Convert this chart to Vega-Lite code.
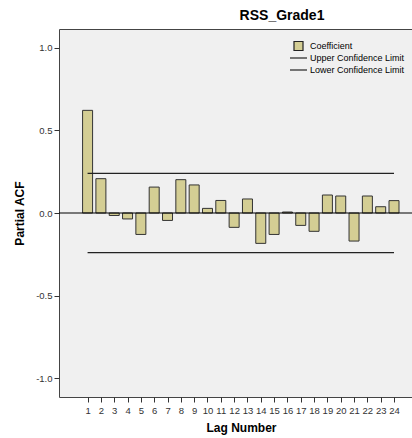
{
  "$schema": "https://vega.github.io/schema/vega-lite/v6.json",
  "autosize": {"type": "none"},
  "padding": {"left": 59, "top": 29, "right": 0, "bottom": 41},
  "width": 354,
  "height": 368,
  "background": "white",
  "title": {"text": "RSS_Grade1", "font": "Liberation Sans", "fontSize": 14, "fontWeight": "bold", "color": "#000", "anchor": "middle", "dx": 46, "offset": 6},
  "config": {
    "view": {"fill": "#f0f0f0", "stroke": "#444", "strokeWidth": 1},
    "axis": {"labelFont": "Liberation Sans", "titleFont": "Liberation Sans", "labelColor": "#333", "titleColor": "#000", "tickColor": "#333", "grid": false, "domain": false, "labelOverlap": false},
    "axisX": {"labelOverlap": false, "labelFlush": false, "labelBound": false},
    "legend": {"labelFont": "Liberation Sans"}
  },
  "datasets": {
    "pacf": [
      {"lag": 1, "coef": 0.622}, {"lag": 2, "coef": 0.208}, {"lag": 3, "coef": -0.015}, {"lag": 4, "coef": -0.036},
      {"lag": 5, "coef": -0.13}, {"lag": 6, "coef": 0.157}, {"lag": 7, "coef": -0.045}, {"lag": 8, "coef": 0.202},
      {"lag": 9, "coef": 0.17}, {"lag": 10, "coef": 0.028}, {"lag": 11, "coef": 0.076}, {"lag": 12, "coef": -0.087},
      {"lag": 13, "coef": 0.085}, {"lag": 14, "coef": -0.184}, {"lag": 15, "coef": -0.13}, {"lag": 16, "coef": 0.006},
      {"lag": 17, "coef": -0.075}, {"lag": 18, "coef": -0.111}, {"lag": 19, "coef": 0.109}, {"lag": 20, "coef": 0.103},
      {"lag": 21, "coef": -0.17}, {"lag": 22, "coef": 0.103}, {"lag": 23, "coef": 0.038}, {"lag": 24, "coef": 0.075}
    ],
    "limits": [
      {"series": "Upper Confidence Limit", "from": 1, "to": 24, "limit": 0.24},
      {"series": "Lower Confidence Limit", "from": 1, "to": 24, "limit": -0.24}
    ],
    "legendItems": [
      {"series": "Coefficient"},
      {"series": "Upper Confidence Limit"},
      {"series": "Lower Confidence Limit"}
    ],
    "baseline": [{"value": 0}]
  },
  "encoding": {
    "x": {"type": "quantitative", "scale": {"domain": [-0.77, 25.05], "nice": false, "zero": false},
      "axis": {"values": [1,2,3,4,5,6,7,8,9,10,11,12,13,14,15,16,17,18,19,20,21,22,23,24], "title": "Lag Number", "titleFontSize": 12, "titleFontWeight": "bold", "titleX": 182, "titlePadding": 8, "labelFontSize": 9.5, "tickSize": 5, "labelPadding": 3, "labelFlush": false, "labelOverlap": false}},
    "y": {"type": "quantitative", "scale": {"domain": [-1.115, 1.115], "nice": false},
      "axis": {"values": [-1, -0.5, 0, 0.5, 1], "labelExpr": "replace(format(datum.value, '.1f'), '\u2212', '-')", "title": "Partial ACF", "titleFontSize": 12, "titleFontWeight": "bold", "titlePadding": 9, "labelFontSize": 9.5, "tickSize": 5, "labelPadding": 2}}
  },
  "layer": [
    {
      "data": {"name": "pacf"},
      "mark": {"type": "bar", "width": 10, "fill": "#d4ce94", "stroke": "#333", "strokeWidth": 1},
      "encoding": {
        "x": {"field": "lag", "type": "quantitative"},
        "y": {"field": "coef", "type": "quantitative"}
      }
    },
    {
      "data": {"name": "limits"},
      "mark": {"type": "rule", "stroke": "#222", "strokeWidth": 1.2},
      "encoding": {
        "x": {"field": "from", "type": "quantitative"},
        "x2": {"field": "to"},
        "y": {"field": "limit", "type": "quantitative"}
      }
    },
    {
      "data": {"name": "baseline"},
      "mark": {"type": "rule", "stroke": "#000", "strokeWidth": 1},
      "encoding": {"x": null, "y": {"field": "value", "type": "quantitative"}}
    },
    {
      "data": {"name": "legendItems"},
      "mark": {"type": "point", "filled": true, "opacity": 1, "clip": true},
      "encoding": {
        "x": {"datum": 40},
        "y": {"datum": 0},
        "shape": {"field": "series", "type": "nominal",
          "scale": {"domain": ["Coefficient", "Upper Confidence Limit", "Lower Confidence Limit"], "range": ["M-0.53,-0.53H0.53V0.53H-0.53Z", "M-1,0H1", "M-1,0H1"]},
          "legend": {"title": null, "orient": "none", "legendX": 230, "legendY": 11, "symbolSize": 289, "symbolStrokeWidth": 1.2, "clipHeight": 12, "labelFontSize": 9, "labelColor": "#000", "labelOffset": 2, "labelLimit": 300, "rowPadding": 0, "padding": 0}},
        "fill": {"field": "series", "type": "nominal",
          "scale": {"domain": ["Coefficient", "Upper Confidence Limit", "Lower Confidence Limit"], "range": ["#d4ce94", "transparent", "transparent"]}},
        "stroke": {"field": "series", "type": "nominal",
          "scale": {"domain": ["Coefficient", "Upper Confidence Limit", "Lower Confidence Limit"], "range": ["#222", "#222", "#222"]}}
      }
    }
  ]
}
